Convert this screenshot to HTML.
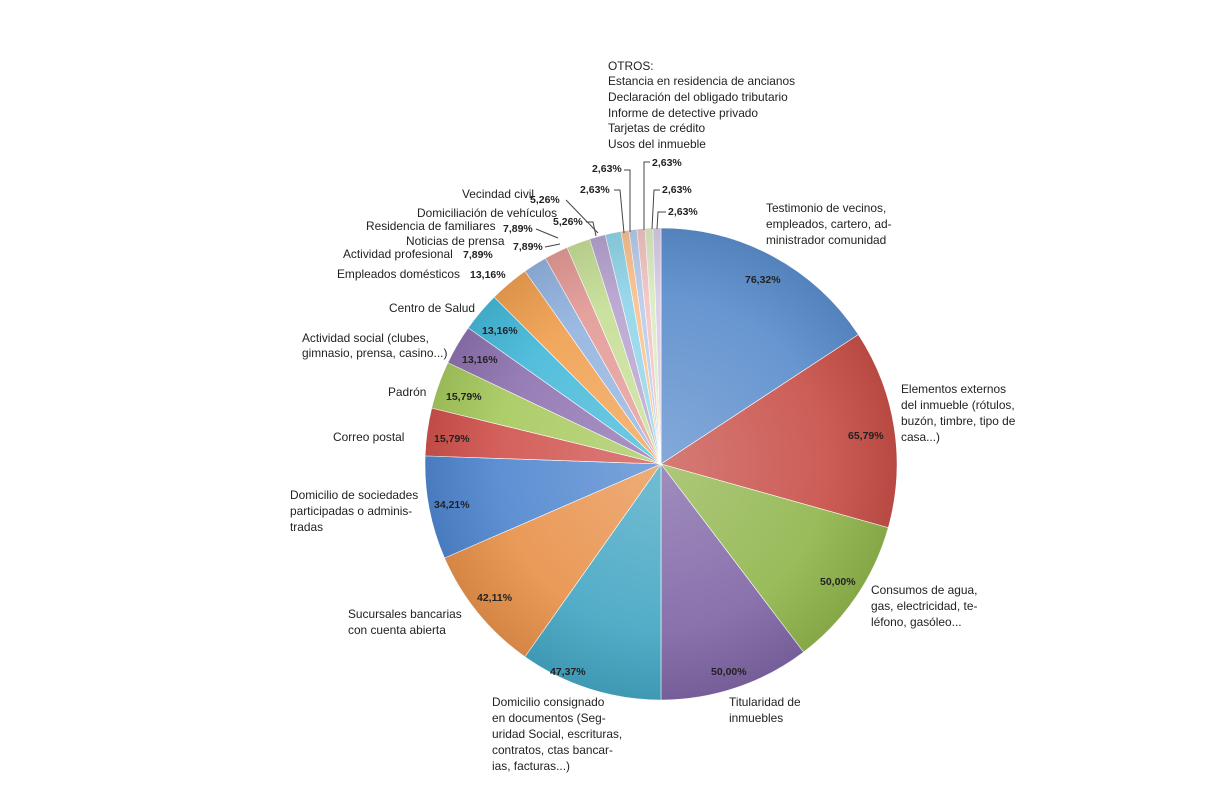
<!DOCTYPE html>
<html><head><meta charset="utf-8"><style>
body{margin:0;background:#fff;width:1230px;height:785px;overflow:hidden}
svg text{font-family:"Liberation Sans",sans-serif;font-size:11.9px;fill:#222}
.p{font-weight:bold;font-size:10.5px}
</style></head><body>
<svg id="s" width="1230" height="785" xmlns="http://www.w3.org/2000/svg">
<defs><radialGradient id="g" cx="661" cy="464" r="236" gradientUnits="userSpaceOnUse">
<stop offset="0" stop-color="#fff" stop-opacity="0.25"/><stop offset="0.7" stop-color="#fff" stop-opacity="0.08"/><stop offset="1" stop-color="#000" stop-opacity="0.08"/></radialGradient></defs>
<g id="pie"></g>
<circle cx="661" cy="464" r="236" fill="url(#g)"/>
<g id="t">
<text x="608" y="70">OTROS:</text>
<text x="608" y="85">Estancia en residencia de ancianos</text>
<text x="608" y="101">Declaración del obligado tributario</text>
<text x="608" y="117">Informe de detective privado</text>
<text x="608" y="132">Tarjetas de crédito</text>
<text x="608" y="148">Usos del inmueble</text>
<text class="p" x="592" y="172">2,63%</text>
<text class="p" x="652" y="166">2,63%</text>
<text class="p" x="580" y="193">2,63%</text>
<text class="p" x="662" y="193">2,63%</text>
<text class="p" x="668" y="215">2,63%</text>
<text x="462" y="198">Vecindad civil</text><text class="p" x="530" y="203">5,26%</text>
<text x="417" y="217">Domiciliación de vehículos</text><text class="p" x="553" y="225">5,26%</text>
<text x="366" y="230">Residencia de familiares</text><text class="p" x="503" y="232">7,89%</text>
<text x="406" y="245">Noticias de prensa</text><text class="p" x="513" y="250">7,89%</text>
<text x="343" y="258">Actividad profesional</text><text class="p" x="463" y="258">7,89%</text>
<text x="337" y="278">Empleados domésticos</text><text class="p" x="470" y="278">13,16%</text>
<text x="389" y="312">Centro de Salud</text><text class="p" x="482" y="334">13,16%</text>
<text x="302" y="342">Actividad social (clubes,</text>
<text x="302" y="357">gimnasio, prensa, casino...)</text><text class="p" x="462" y="363">13,16%</text>
<text x="388" y="396">Padrón</text><text class="p" x="446" y="400">15,79%</text>
<text x="333" y="441">Correo postal</text><text class="p" x="434" y="442">15,79%</text>
<text x="290" y="499">Domicilio de sociedades</text>
<text x="290" y="515">participadas o adminis-</text>
<text x="290" y="531">tradas</text><text class="p" x="434" y="508">34,21%</text>
<text x="348" y="618">Sucursales bancarias</text>
<text x="348" y="634">con cuenta abierta</text><text class="p" x="477" y="601">42,11%</text>
<text x="492" y="706">Domicilio consignado</text>
<text x="492" y="722">en documentos (Seg-</text>
<text x="492" y="738">uridad Social, escrituras,</text>
<text x="492" y="754">contratos, ctas bancar-</text>
<text x="492" y="770">ias, facturas...)</text><text class="p" x="550" y="675">47,37%</text>
<text x="729" y="706">Titularidad de</text>
<text x="729" y="722">inmuebles</text><text class="p" x="711" y="675">50,00%</text>
<text x="871" y="594">Consumos de agua,</text>
<text x="871" y="610">gas, electricidad, te-</text>
<text x="871" y="626">léfono, gasóleo...</text><text class="p" x="820" y="585">50,00%</text>
<text x="901" y="393">Elementos externos</text>
<text x="901" y="409">del inmueble (rótulos,</text>
<text x="901" y="425">buzón, timbre, tipo de</text>
<text x="901" y="441">casa...)</text><text class="p" x="848" y="439">65,79%</text>
<text x="766" y="212">Testimonio de vecinos,</text>
<text x="766" y="228">empleados, cartero, ad-</text>
<text x="766" y="244">ministrador comunidad</text><text class="p" x="745" y="283">76,32%</text>
</g>
<g stroke="#444" stroke-width="1" fill="none">
<path d="M624 170 L630 170 L630 232"/><path d="M650 162 L644 162 L644 230"/>
<path d="M614 190 L620 190 L624 233"/><path d="M660 190 L654 190 L652 229"/>
<path d="M666 212 L658 212 L657 229"/><path d="M566 200 L598 233"/>
<path d="M586 222 L593 222 L596 236"/><path d="M536 229 L558 238"/>
<path d="M545 247 L560 244"/>
</g>
</svg>
<script>
var v=[76.32,65.79,50,50,47.37,42.11,34.21,15.79,15.79,13.16,13.16,13.16,7.89,7.89,7.89,5.26,5.26,2.63,2.63,2.63,2.63,2.63];
var c=["#5b8dcc","#c84f48","#91b64d","#8066a6","#44a6c3","#e8914a","#4f86cf","#d0524d","#a7c95e","#8e72b0","#45b9d9","#f0a050","#92b3df","#e39a96","#c6de96","#b7a3d0","#91d5e9","#f8c28f","#b9cbeb","#f1c4c2","#dcebc2","#d8cde6"];
var t=v.reduce((a,b)=>a+b),a=0,cx=661,cy=464,r=236,h="";
v.forEach(function(x,i){var b=a+x/t*2*Math.PI;
var x1=cx+r*Math.sin(a),y1=cy-r*Math.cos(a),x2=cx+r*Math.sin(b),y2=cy-r*Math.cos(b);
h+='<path d="M'+cx+' '+cy+' L'+x1+' '+y1+' A'+r+' '+r+' 0 '+((b-a)>Math.PI?1:0)+' 1 '+x2+' '+y2+' Z" fill="'+c[i]+'" stroke="#fff" stroke-width="0.6"/>';a=b;});
document.getElementById("pie").innerHTML=h;
</script>
</body></html>
